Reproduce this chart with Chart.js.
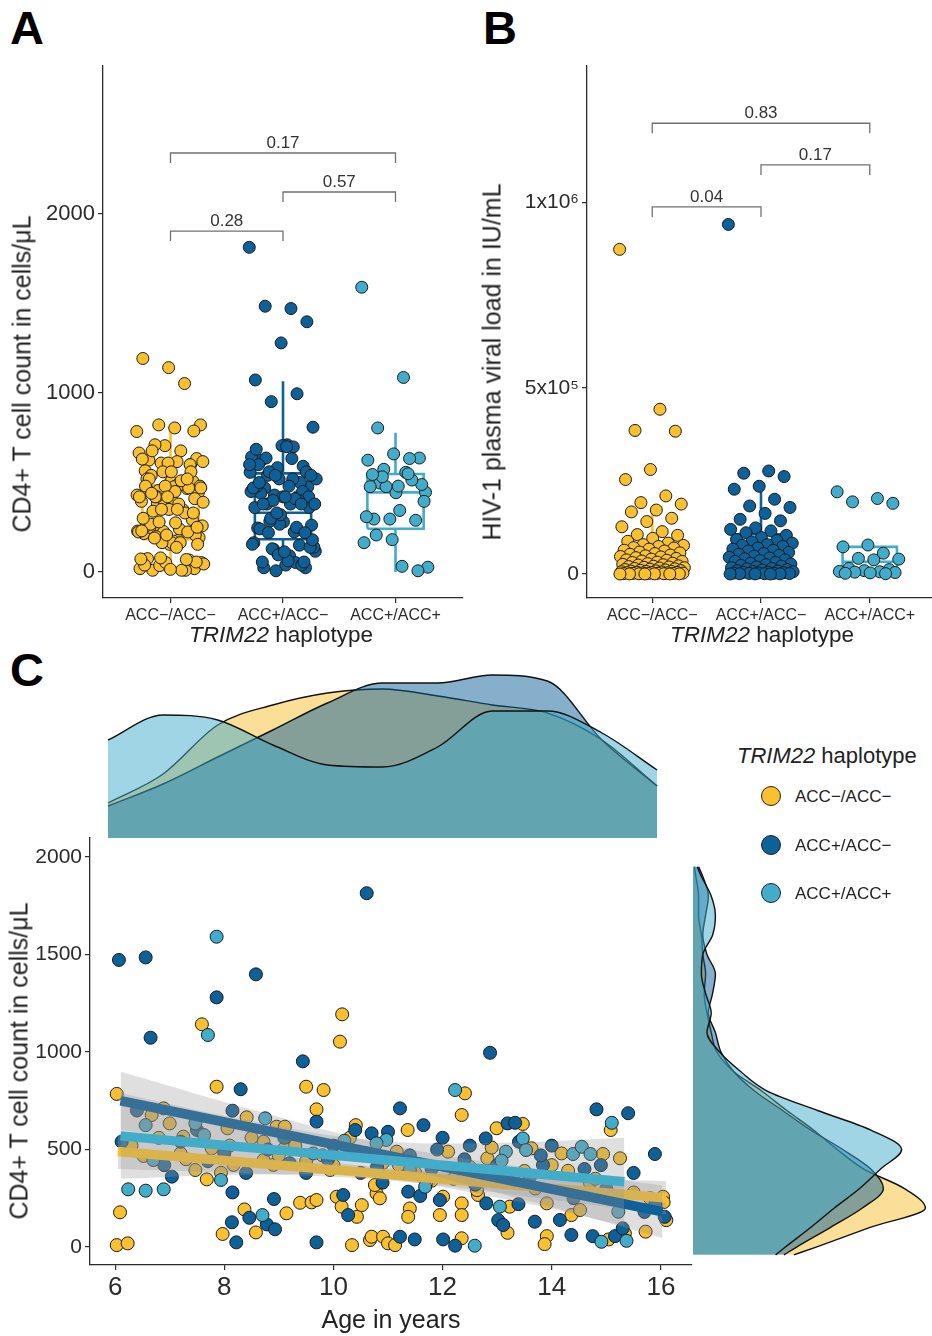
<!DOCTYPE html>
<html>
<head>
<meta charset="utf-8">
<title>TRIM22 haplotype</title>
<script src="https://cdn.jsdelivr.net/npm/chart.js@4.4.1/dist/chart.umd.min.js"></script>
<style>
  html, body { margin: 0; padding: 0; background: #fff; }
  body { position: relative; width: 932px; height: 1336px; overflow: hidden;
         font-family: "Liberation Sans", Arial, Helvetica, sans-serif; color: #222; }
  canvas { position: absolute; }
  .txt { position: absolute; white-space: nowrap; line-height: 1; }
  .letter { font-weight: bold; font-size: 47px; color: #000; }
  .ytitle { transform: translate(-50%, -50%) rotate(-90deg); font-size: 25px; }
  .xtitle { transform: translate(-50%, -50%); font-size: 22.5px; }
  .key { position: absolute; width: 18px; height: 18px; border-radius: 50%;
         border: 1.5px solid #222; transform: translate(-50%, -50%); }
</style>
</head>
<body>
<div class="txt letter" style="left:10px;top:4px">A</div>
<div class="txt letter" style="left:483px;top:4px">B</div>
<div class="txt letter" style="left:10px;top:646px">C</div>

<canvas id="panelA" width="470" height="660" style="left:0;top:0"></canvas>
<canvas id="panelB" width="472" height="660" style="left:470px;top:0"></canvas>
<canvas id="densTop" width="602" height="169" style="left:90px;top:669px"></canvas>
<canvas id="scatterC" width="700" height="516" style="left:0;top:820px"></canvas>
<canvas id="densRight" width="239" height="427" style="left:693px;top:838px"></canvas>

<div class="txt ytitle" style="left:22px;top:374px">CD4+ T cell count in cells/μL</div>
<div class="txt xtitle" style="left:281px;top:635px"><i>TRIM22</i> haplotype</div>
<div class="txt ytitle" style="left:492px;top:362px">HIV-1 plasma viral load in IU/mL</div>
<div class="txt xtitle" style="left:762px;top:635px"><i>TRIM22</i> haplotype</div>
<div class="txt ytitle" style="left:19px;top:1061px">CD4+ T cell count in cells/μL</div>
<div class="txt xtitle" style="left:391px;top:1319px;font-size:25px">Age in years</div>

<div class="txt" style="left:737px;top:756px;transform:translateY(-50%);font-size:22px"><i>TRIM22</i> haplotype</div>
<div id="legend"></div>

<script>
// haplotype groups
const groups = ['ACC\u2212/ACC\u2212', 'ACC+/ACC\u2212', 'ACC+/ACC+'];
const colors = ['#F9C02F', '#0E6098', '#42ACCB'];

// age (years) and CD4+ count (cells/µL) per haplotype -> panels A and C
const ageYellow = [6.03, 6.09, 6.03, 6.23, 7.59, 10.16, 10.12, 7.86, 9.50, 9.82, 10.41, 11.36, 9.69, 8.41, 6.67, 6.89, 7.00, 7.77, 7.25, 6.52,
  8.06, 8.96, 9.11, 8.72, 9.10, 8.17, 7.47, 7.68, 7.94, 8.37, 9.14, 8.58, 7.97, 9.39, 9.60, 9.69, 10.06, 10.15, 10.43, 10.52,
  10.34, 10.67, 10.70, 10.79, 10.85, 10.76, 10.91, 11.00, 11.13, 11.40, 11.37, 11.95, 12.01, 12.35, 12.35, 12.35, 12.10, 12.35, 12.41, 12.99,
  13.47, 13.63, 12.82, 14.18, 14.94, 15.25, 15.08, 14.30, 13.91, 14.36, 14.52, 13.91, 13.87, 15.04, 15.34, 15.72, 16.04, 16.10, 12.65, 12.63,
  13.23, 13.19, 11.16, 8.90, 8.72, 9.94, 9.3, 9.8, 10.3, 10.9, 11.5, 11.8, 12.5, 13.3, 13.7, 14.7, 15.5, 9.0, 7.3, 6.3,
  8.5, 10.6, 11.2, 12.9, 14.0, 15.8, 6.8, 7.2, 8.1, 12.2, 13.5, 14.8, 9.5, 11.7, 10.0, 16.05];
const cd4Yellow = [785, 178, 10, 19, 1142, 1193, 1053, 822, 822, 805, 625, 600, 706, 665, 677, 711, 634, 506, 566, 467,
  609, 617, 617, 540, 506, 421, 395, 347, 381, 193, 173, 75, 67, 227, 229, 241, 258, 207, 155, 215,
  10, 36, 53, 275, 250, 318, 53, 19, 10, 198, 155, 164, 258, 224, 164, 45, 489, 677, 788, 609,
  631, 506, 455, 480, 477, 455, 600, 391, 224, 164, 190, 56, 15, 39, 70, 79, 258, 138, 267, 292,
  207, 73, 489, 421, 446, 395, 520, 470, 560, 430, 380, 340, 410, 350, 300, 330, 280, 470, 450, 520,
  560, 480, 420, 510, 420, 250, 560, 480, 520, 350, 390, 350, 440, 330, 420, 230];

const ageDark = [10.61, 6.07, 6.56, 8.58, 7.86, 6.65, 12.87, 9.44, 8.30, 11.22, 11.65, 11.00, 10.70, 9.69, 8.15, 6.12, 7.04, 8.15, 8.91, 8.46,
  8.14, 8.78, 8.93, 8.22, 9.69, 10.18, 10.27, 11.22, 11.37, 11.59, 11.49, 11.95, 12.01, 12.23, 12.79, 13.19, 13.33, 15.89, 14.82, 15.40,
  13.84, 13.69, 14.15, 14.36, 14.75, 15.16, 15.30, 16.07, 12.80, 13.39, 13.02, 13.11,
  7.5, 8.8, 9.2, 10.0, 10.5, 11.4, 12.0, 12.6, 13.6, 14.4, 15.0, 15.7, 6.4, 7.7, 9.9, 10.9, 12.4, 14.0, 15.5, 13.0,
  6.9, 8.0, 11.8, 14.6, 9.5, 10.3, 12.7, 15.9, 12.5, 13.8, 10.8, 9.1, 7.2, 14.9, 11.9, 8.4, 13.4, 10.4];
const cd4Dark = [1814, 1472, 1485, 1398, 1280, 1073, 996, 952, 809, 711, 625, 591, 583, 643, 699, 540, 361, 280, 246, 150,
  127, 116, 91, 24, 24, 267, 164, 53, 284, 262, 39, 241, 39, 7, 557, 634, 637, 477, 706, 686,
  421, 130, 139, 62, 56, 56, 96, 155, 224, 220, 138, 113,
  600, 500, 430, 520, 380, 470, 560, 320, 360, 250, 300, 180, 700, 440, 450, 330, 450, 520, 380, 420,
  420, 480, 400, 400, 380, 480, 380, 220, 520, 470, 410, 560, 540, 420, 500, 380, 540, 600];

const ageLight = [7.86, 7.70, 12.23, 15.10, 8.75, 6.56, 7.47, 7.63, 6.70, 7.94, 6.24, 6.56, 6.89, 8.70, 13.47, 13.53,
  13.16, 13.08, 14.39, 14.55, 14.71, 14.91, 15.37, 13.05, 12.59, 15.22, 11.68, 10.97, 10.79, 11.40, 9.63, 10.20];
const cd4Light = [1591, 1087, 805, 637, 660, 625, 634, 574, 446, 344, 296, 289, 296, 164, 557, 497,
  489, 443, 477, 514, 477, 27, 32, 207, 7, 181, 309, 549, 532, 395, 480, 545];

// panel B: HIV-1 plasma viral load, thousands of IU/mL
const vlYellow = [873, 443, 386, 384, 281, 254, 210, 192, 188, 172, 167, 150, 141, 127, 114, 106, 104, 96, 88, 83,
  79, 77, 74, 71, 70, 67, 64, 62, 59, 57, 55, 53, 51, 49, 47, 46, 44, 42, 40, 38,
  37, 35, 34, 32, 31, 29, 28, 26, 25, 24, 22, 21, 20, 19, 18, 17, 16, 15, 14, 13,
  12, 11, 10, 9.2, 8.6, 8.0, 7.3, 6.8, 6.1, 5.5, 5.0, 4.6, 4.1, 3.7, 3.2, 2.8, 2.5, 2.1, 1.8, 1.5,
  1.3, 1.0, 0.8, 0.6, 0.5, 0.4, 0.3, 0.2, 0.1, 0.1];
const vlDark = [940, 277, 271, 262, 236, 228, 201, 183, 179, 163, 147, 143, 124, 120, 116, 111, 104, 98, 93, 90,
  86, 83, 79, 77, 74, 70, 67, 64, 62, 58, 55, 53, 50, 48, 45, 43, 41, 38, 36, 34,
  31, 29, 27, 25, 23, 21, 19, 17, 15, 14, 12, 11, 9, 8, 7, 6, 5, 4.4, 3.6, 3.0,
  2.4, 2.0, 1.6, 1.2, 0.9, 0.7, 0.5, 0.3, 0.2, 0.1];
const vlLight = [221, 203, 194, 190, 78, 73, 56, 42, 40, 38, 15, 12, 9, 7, 6, 5, 4, 3, 2, 1];

// box summaries (q1, median, q3, whisker ends)
const boxA = { q1: [183, 183, 242], med: [330, 331, 445], q3: [484, 551, 548], lo: [0, 7, 0], hi: [793, 1066, 778] };
const boxB = { q1: [3.5, 11, 4], med: [22, 40, 33], q3: [69, 107, 73], lo: [0, 0, 0], hi: [165, 221, 78] };

// pairwise comparisons
const pairs = [[1, 2], [2, 3], [1, 3]];
const pA = ['0.28', '0.57', '0.17'];
const bracketA = [1905, 2123, 2341];
const pB = ['0.04', '0.17', '0.83'];
const bracketB = [987, 1100, 1212];

// tick labels
const yTicksA = [0, 1000, 2000];
const yTicksB = [0, 500, 1000];
const yLabelsB = ['0', '5x10\u2075', '1x10\u2076'];
const xTicksC = [6, 8, 10, 12, 14, 16];
const yTicksC = [0, 500, 1000, 1500, 2000];

// linear fits with confidence bands (panel C)
const fitAge = [[6.05, 16.1], [6.1, 16.03], [6.1, 15.33]];
const fitCd4 = [[490, 252], [750, 181], [570, 335]];
const bandAge = [[6.05, 8.5, 11, 13.5, 16.1], [6.1, 8.6, 11.1, 13.6, 16.03], [6.1, 8.4, 10.7, 13.0, 15.33]];
const bandLow = [[400, 377, 341, 261, 167], [600, 517, 408, 235, 46], [350, 371, 358, 254, 110]];
const bandHigh = [[580, 487, 405, 365, 337], [900, 697, 518, 405, 316], [790, 651, 548, 534, 560]];

// marginal densities
const densTopAge = [5.87, 6.88, 7.88, 8.89, 9.89, 10.90, 11.91, 12.91, 13.92, 14.92, 15.93];
const densTopYellow = [0.035, 0.064, 0.113, 0.133, 0.145, 0.149, 0.142, 0.133, 0.125, 0.098, 0.052];
const densTopDark = [0.032, 0.054, 0.081, 0.108, 0.135, 0.155, 0.155, 0.163, 0.157, 0.098, 0.052];
const densTopLight = [0.098, 0.123, 0.118, 0.093, 0.073, 0.071, 0.091, 0.127, 0.127, 0.105, 0.068];

const densRightCd4 = [-40, 0, 100, 200, 300, 400, 500, 600, 700, 800, 900, 1000, 1100, 1200, 1300, 1400, 1500, 1600, 1700, 1800, 1900, 1950];
const densRightYellow = [7.2, 8.8, 12.6, 16.6, 15.1, 12.2, 10.3, 8.6, 6.7, 4.9, 2.9, 1.7, 1.3, 1.0, 0.8, 0.9, 0.7, 0.6, 0.4, 0.4, 0.2, 0.1];
const densRightDark = [6.5, 7.4, 9.8, 12.1, 13.6, 12.7, 10.7, 8.4, 6.4, 4.4, 2.9, 2.0, 1.6, 1.1, 1.4, 1.6, 1.0, 0.7, 0.9, 1.1, 0.7, 0.4];
const densRightLight = [5.9, 6.6, 8.4, 10.1, 11.9, 13.4, 14.9, 12.7, 8.9, 5.3, 3.4, 1.9, 1.0, 1.3, 0.9, 0.6, 0.7, 1.4, 1.6, 1.3, 0.6, 0.3];

// ---------------------------------------------------------------
const FONT = "'Liberation Sans', Arial, Helvetica, sans-serif";
const INK = '#2b2b2b';
const densFill = ['rgba(249,192,47,0.5)', 'rgba(14,96,152,0.5)', 'rgba(66,172,203,0.5)'];

Chart.defaults.font.family = FONT;
Chart.defaults.color = INK;
Chart.defaults.animation = false;
Chart.defaults.responsive = false;
Chart.defaults.plugins.legend.display = false;
Chart.defaults.plugins.tooltip.enabled = false;

// deterministic horizontal jitter for the strip points
function jitter(i) { return (((i * 0.618034) % 1) - 0.5) * 0.6; }

function axis(min, max, tickVals, tickText, size, fitKey, fitSize, pad) {
  return {
    type: 'linear', min: min, max: max,
    afterBuildTicks: s => { s.ticks = tickVals.map(v => ({ value: v })); },
    afterFit: s => { s[fitKey] = fitSize; },
    ticks: { callback: (v, i) => tickText[i], font: { size: size }, color: INK, padding: pad, autoSkip: false, maxRotation: 0 },
    grid: { drawOnChartArea: false, drawTicks: true, tickLength: 5, color: INK, lineWidth: 1.2 },
    border: { display: true, color: INK, width: 1.3 }
  };
}

function boxOutline(c, q1, med, q3, lo, hi) {
  const w = 0.25;
  return [
    { x: c - w, y: q1 }, { x: c + w, y: q1 }, { x: c + w, y: q3 }, { x: c - w, y: q3 }, { x: c - w, y: q1 },
    { x: c, y: null },
    { x: c - w, y: med }, { x: c + w, y: med },
    { x: c, y: null },
    { x: c, y: q3 }, { x: c, y: hi },
    { x: c, y: null },
    { x: c, y: q1 }, { x: c, y: lo }
  ];
}

// p-value text above each bracket
function pLabelPlugin(heights, texts) {
  return {
    id: 'pLabels',
    afterDatasetsDraw(chart) {
      const ctx = chart.ctx, xs = chart.scales.x, ys = chart.scales.y;
      ctx.save();
      ctx.font = '17px ' + FONT;
      ctx.fillStyle = '#333';
      ctx.textAlign = 'center';
      ctx.textBaseline = 'alphabetic';
      pairs.forEach((p, k) => {
        ctx.fillText(texts[k], xs.getPixelForValue((p[0] + p[1]) / 2), ys.getPixelForValue(heights[k]) - 5);
      });
      ctx.restore();
    }
  };
}

function boxPanel(id, vals, stats, yMin, yMax, yTicks, yText, yFit, yFont, padRight, heights, texts, drop) {
  const datasets = [];
  stats.q1.forEach((q1, g) => {
    datasets.push({
      type: 'line', data: boxOutline(g + 1, q1, stats.med[g], stats.q3[g], stats.lo[g], stats.hi[g]),
      borderColor: colors[g], borderWidth: 2.6, pointRadius: 0, tension: 0, spanGaps: false, order: 20
    });
  });
  vals.forEach((v, g) => {
    datasets.push({
      type: 'scatter', data: v.map((y, i) => ({ x: g + 1 + jitter(i), y: y })),
      backgroundColor: colors[g], borderColor: '#1b1b1b', borderWidth: 1, pointRadius: 6, order: 10
    });
  });
  pairs.forEach((p, k) => {
    const h = heights[k];
    datasets.push({
      type: 'line',
      data: [{ x: p[0], y: h - drop }, { x: p[0], y: h }, { x: p[1], y: h }, { x: p[1], y: h - drop }],
      borderColor: '#707070', borderWidth: 1.3, pointRadius: 0, tension: 0, order: 5
    });
  });
  new Chart(document.getElementById(id), {
    type: 'scatter',
    data: { datasets: datasets },
    options: {
      layout: { padding: { top: 66, right: padRight, left: 0, bottom: 0 } },
      scales: {
        x: axis(0.4, 3.6, [1, 2, 3], groups, 16, 'height', 62, 3),
        y: axis(yMin, yMax, yTicks, yText, yFont, 'width', yFit, 3)
      }
    },
    plugins: [pLabelPlugin(heights, texts)]
  });
}

boxPanel('panelA', [cd4Yellow, cd4Dark, cd4Light], boxA, -145, 2827, yTicksA, yTicksA.map(String),
  103, 22, 4, bracketA, pA, 56);
boxPanel('panelB', [vlYellow, vlDark, vlLight], boxB, -64.5, 1366, yTicksB, yLabelsB,
  117, 21, 2, bracketB, pB, 27);

// ---- panel C scatter with fits ----
const ages = [ageYellow, ageDark, ageLight];
const cd4s = [cd4Yellow, cd4Dark, cd4Light];
const cDatasets = [];
ages.forEach((a, g) => {
  cDatasets.push({
    type: 'scatter', data: a.map((x, i) => ({ x: x, y: cd4s[g][i] })),
    backgroundColor: colors[g], borderColor: '#1b1b1b', borderWidth: 1, pointRadius: 6.5, order: 30 - g
  });
});
fitAge.forEach((fa, g) => {
  const base = 16 - g * 2;
  const lowIdx = cDatasets.length;
  cDatasets.push({
    type: 'line', data: bandAge[g].map((x, i) => ({ x: x, y: bandLow[g][i] })),
    borderWidth: 0, borderColor: 'rgba(0,0,0,0)', pointRadius: 0, fill: false, tension: 0.4, order: base
  });
  cDatasets.push({
    type: 'line', data: bandAge[g].map((x, i) => ({ x: x, y: bandHigh[g][i] })),
    borderWidth: 0, borderColor: 'rgba(0,0,0,0)', pointRadius: 0, fill: lowIdx,
    backgroundColor: 'rgba(150,150,150,0.3)', tension: 0.4, order: base
  });
  cDatasets.push({
    type: 'line', data: fa.map((x, i) => ({ x: x, y: fitCd4[g][i] })),
    borderColor: colors[g], borderWidth: 9.5, pointRadius: 0, fill: false, tension: 0,
    borderCapStyle: 'butt', order: base - 1
  });
});

new Chart(document.getElementById('scatterC'), {
  type: 'scatter',
  data: { datasets: cDatasets },
  options: {
    layout: { padding: { top: 18, right: 8, left: 0, bottom: 0 } },
    scales: {
      x: axis(5.54, 16.57, xTicksC, xTicksC.map(String), 26, 'height', 71, 2),
      y: axis(-92, 2097, yTicksC, yTicksC.map(String), 21, 'width', 90, 3)
    }
  }
});

// ---- marginal densities ----
function densSet(xs, ys, g, vertical) {
  return {
    data: xs.map((v, i) => vertical ? { x: ys[i], y: v } : { x: v, y: ys[i] }),
    borderColor: '#111', borderWidth: 1.4, backgroundColor: densFill[g],
    fill: 'origin', pointRadius: 0, cubicInterpolationMode: 'monotone', order: 3 - g
  };
}

new Chart(document.getElementById('densTop'), {
  type: 'line',
  data: { datasets: [
    densSet(densTopAge, densTopYellow, 0, false),
    densSet(densTopAge, densTopDark, 1, false),
    densSet(densTopAge, densTopLight, 2, false)
  ] },
  options: {
    layout: { padding: 0 },
    scales: {
      x: { type: 'linear', display: false, min: 5.54, max: 16.57 },
      y: { type: 'linear', display: false, min: 0, max: 0.169 }
    }
  }
});

new Chart(document.getElementById('densRight'), {
  type: 'line',
  data: { datasets: [
    densSet(densRightCd4, densRightYellow, 0, true),
    densSet(densRightCd4, densRightDark, 1, true),
    densSet(densRightCd4, densRightLight, 2, true)
  ] },
  options: {
    indexAxis: 'y',
    layout: { padding: 0 },
    scales: {
      x: { type: 'linear', display: false, min: 0, max: 17.07 },
      y: { type: 'linear', display: false, min: -92, max: 2097 }
    }
  }
});

// ---- legend ----
const legend = document.getElementById('legend');
const keyY = [796, 845, 893];
groups.forEach((name, g) => {
  const dot = document.createElement('div');
  dot.className = 'key';
  dot.style.left = '771px';
  dot.style.top = keyY[g] + 'px';
  dot.style.background = colors[g];
  legend.appendChild(dot);
  const lab = document.createElement('div');
  lab.className = 'txt';
  lab.style.left = '795px';
  lab.style.top = keyY[g] + 'px';
  lab.style.transform = 'translateY(-50%)';
  lab.style.fontSize = '17px';
  lab.textContent = name;
  legend.appendChild(lab);
});
</script>
</body>
</html>
